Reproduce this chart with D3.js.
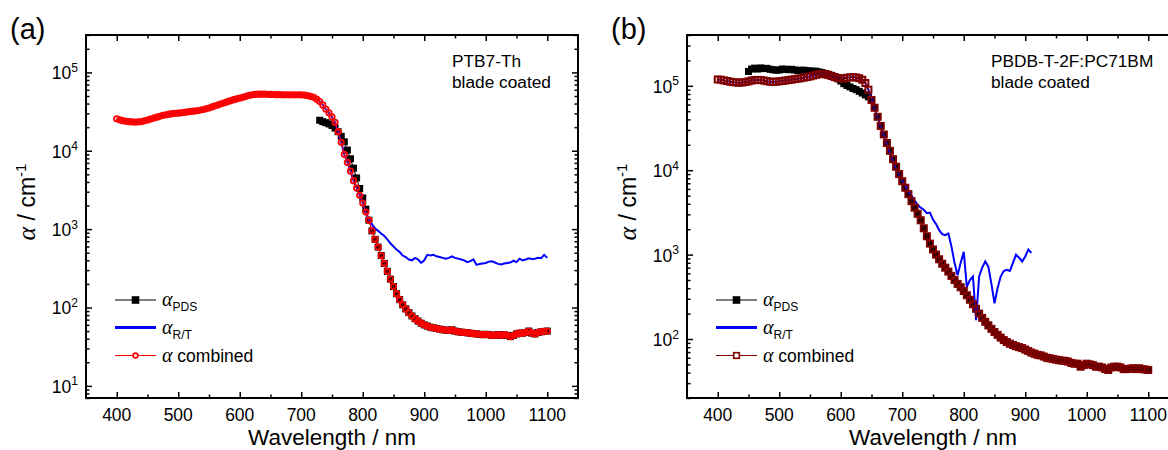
<!DOCTYPE html>
<html>
<head>
<meta charset="utf-8">
<title>Absorption coefficient</title>
<script src="https://cdn.jsdelivr.net/npm/d3@7"></script>
<style>
body { margin: 0; background: #fff; }
svg { display: block; font-family: "Liberation Sans", Arial, sans-serif; }
</style>
</head>
<body>
<svg id="chart" width="1168" height="450"></svg>
<script>
// ---- data: [wavelength nm, alpha cm^-1] ----

// (a) PTB7-Th, R/T absorption
var rtA = [
  [400,25600],[405,24800],[410,24200],[415,23800],[420,23500],[425,23300],[430,23200],[435,23300],[440,23600],[445,24100],
  [450,24700],[455,25400],[460,26100],[465,26800],[470,27500],[475,28200],[480,28800],[485,29300],[490,29700],[495,30000],
  [500,30200],[505,30500],[510,30900],[515,31300],[520,31700],[525,32100],[530,32400],[535,32900],[540,33600],[545,34300],
  [550,35100],[555,36200],[560,37400],[565,38600],[570,39800],[575,41000],[580,42300],[585,43600],[590,44900],[595,46000],
  [600,47000],[605,48200],[610,49500],[615,50800],[620,51700],[625,52300],[630,52700],[635,52800],[640,52700],[645,52500],
  [650,52300],[655,52200],[660,52000],[665,51900],[670,51800],[675,51800],[680,51800],[685,51800],[690,51800],[695,51800],
  [700,51700],[705,51300],[710,50600],[715,49500],[720,48000],[725,45500],[730,42500],[735,38500],[740,34000],[745,30500],
  [750,27000],[755,23000],[760,17500],[765,12800],[770,9000],[775,7100],[780,5500],[785,4150],[790,3350],[795,2700],
  [800,2150],[805,1650],[810,1300],[815,1150],[820,1020],[825,950],[830,880],[835,820],[840,740],[845,660],
  [850,600],[855,550],[860,510],[865,460],[870,440],[875,410],[880,400],[885,430],[890,410],[895,370],
  [900,400],[905,470],[910,460],[915,470],[920,450],[925,440],[930,430],[935,420],[940,430],[945,450],
  [950,430],[955,420],[960,410],[965,400],[970,380],[975,390],[980,410],[985,350],[990,360],[995,365],
  [1000,370],[1005,385],[1010,390],[1015,375],[1020,360],[1025,355],[1030,365],[1035,370],[1040,375],[1045,395],
  [1050,380],[1055,420],[1060,400],[1065,410],[1070,425],[1075,415],[1080,420],[1085,430],[1090,425],[1095,470],[1100,430]
];

// (a) PTB7-Th, PDS
var pdsA = [
  [730,24500],[735,23500],[740,22800],[745,22000],[750,21000],[755,19500],[760,17500],[765,15300],[770,13000],[775,10200],
  [780,7900],[785,6000],[790,4500],[795,3300],[800,2500],[805,1800],[810,1300],[815,950],[820,740],[825,590],
  [830,460],[835,365],[840,290],[845,230],[850,185],[855,150],[860,126],[865,108],[870,96],[875,86],
  [880,78],[885,72],[890,67],[895,63],[900,60],[905,58],[910,56],[915,55],[920,54],[925,53],
  [930,52],[935,51.5],[940,51],[945,52],[950,50],[955,49],[960,48.5],[965,48],[970,47.5],[975,47],
  [980,46.5],[985,46],[990,45.5],[995,45],[1000,45.5],[1005,45],[1010,44],[1015,44.5],[1020,45],[1025,44],
  [1030,45],[1035,44],[1040,42.5],[1045,44],[1050,46],[1055,47],[1060,47],[1065,48],[1070,50],[1075,47],
  [1080,46],[1085,48],[1090,49],[1095,49.5],[1100,50]
];

// (b) PBDB-T-2F:PC71BM, R/T absorption
var rtB = [
  [400,119000],[405,118000],[410,116000],[415,114000],[420,112000],[425,110500],[430,109500],[435,109000],[440,109500],[445,111000],
  [450,113000],[455,115500],[460,117000],[465,117500],[470,117000],[475,115500],[480,113500],[485,112000],[490,111500],[495,112000],
  [500,113000],[505,114000],[510,115500],[515,117000],[520,118500],[525,120000],[530,121500],[535,123000],[540,125000],[545,127000],
  [550,129000],[555,132000],[560,135000],[565,137500],[570,138500],[575,137000],[580,134000],[585,130500],[590,127000],[595,124000],
  [600,122000],[605,122500],[610,124500],[615,126000],[620,126500],[625,125500],[630,123000],[635,118000],[640,108000],[645,90000],
  [650,70000],[655,54000],[660,42000],[665,33000],[670,26000],[675,20500],[680,16000],[685,13000],[690,10500],[695,8800],
  [700,7500],[705,6500],[710,5700],[715,5000],[720,4400],[725,3900],[730,3600],[735,3400],[740,3100],[745,3150],
  [750,2600],[755,2300],[760,1950],[765,1750],[770,1700],[775,1780],[780,1250],[785,800],[790,570],[795,800],
  [800,1080],[805,415],[810,500],[815,550],[820,167],[825,550],[830,700],[835,830],[840,720],[845,450],
  [850,265],[855,400],[860,550],[865,640],[870,660],[875,640],[880,800],[885,1000],[890,920],[895,830],
  [900,950],[905,1150],[910,1050]
];

// (b) PBDB-T-2F:PC71BM, PDS
var pdsB = [
  [450,148000],[455,158000],[460,162000],[465,158000],[470,163000],[475,160000],[480,161000],[485,157000],[490,155000],[495,153000],
  [500,154000],[505,158000],[510,157000],[515,155000],[520,157000],[525,154000],[530,152000],[535,153000],[540,153000],[545,151000],
  [550,150000],[555,149000],[560,149000],[565,146000],[570,143000],[575,140000],[580,137000],[585,133000],[590,127000],[595,121000],
  [600,114000],[605,106000],[610,101000],[615,97000],[620,93000],[625,90000],[630,86000],[635,82000],[640,78000],[645,74000],
  [650,68000],[655,55000],[660,43000],[665,33500],[670,26500],[675,21000],[680,17000],[685,13500],[690,11000],[695,9000],
  [700,7400],[705,6200],[710,5200],[715,4300],[720,3600],[725,3050],[730,2550],[735,2050],[740,1650],[745,1350],
  [750,1150],[755,1000],[760,880],[765,780],[770,700],[775,630],[780,560],[785,500],[790,450],[795,410],
  [800,370],[805,330],[810,292],[815,258],[820,228],[825,200],[830,178],[835,160],[840,145],[845,132],
  [850,121],[855,112],[860,104],[865,97],[870,92],[875,88],[880,85],[885,82],[890,80],[895,78],
  [900,75],[905,72],[910,69],[915,67],[920,65],[925,64],[930,62],[935,60],[940,59],[945,58],
  [950,57],[955,56],[960,55.5],[965,55],[970,54],[975,52],[980,51],[985,51],[990,47],[995,49],
  [1000,51],[1005,50],[1010,49],[1015,47],[1020,47],[1025,46],[1030,44],[1035,43],[1040,46],[1045,47],
  [1050,47],[1055,46],[1060,44],[1065,44],[1070,44.5],[1075,45],[1080,44],[1085,45],[1090,44],[1095,43.5],[1100,43]
];

// combined = R/T below the switch wavelength, PDS from it on
var splitA = 810, splitB = 650;

var xMajor = [400, 500, 600, 700, 800, 900, 1000, 1100];
var xMinor = [450, 550, 650, 750, 850, 950, 1050];
var yMajorA = [1e1, 1e2, 1e3, 1e4, 1e5];
var yMajorB = [1e2, 1e3, 1e4, 1e5];

var svg = d3.select("#chart");

function drawPanel(o) {
  var g = svg.append("g");
  var x = d3.scaleLinear().domain([350, 1150]).range([o.left, o.left + o.w]);
  var y = d3.scaleLog().domain(o.yDomain).range([o.top + o.h, o.top]);

  var combined = o.rt.filter(function(d) { return d[0] < o.split; })
    .concat(o.pds.filter(function(d) { return d[0] >= o.split; }));

  svg.append("clipPath").attr("id", "clip" + o.id)
    .append("rect").attr("x", o.left).attr("y", o.top).attr("width", o.w).attr("height", o.h);
  var plot = g.append("g").attr("clip-path", "url(#clip" + o.id + ")");

  var line = d3.line().x(function(d) { return x(d[0]); }).y(function(d) { return y(d[1]); });

  // PDS: black squares on a thin line
  plot.append("path").datum(o.pds).attr("d", line)
    .attr("fill", "none").attr("stroke", "#000").attr("stroke-width", 1);
  plot.append("g").selectAll("rect").data(o.pds).join("rect")
    .attr("x", function(d) { return x(d[0]) - 3.5; })
    .attr("y", function(d) { return y(d[1]) - 3.5; })
    .attr("width", 7).attr("height", 7).attr("fill", "#000");

  // R/T: blue line
  plot.append("path").datum(o.rt).attr("d", line)
    .attr("fill", "none").attr("stroke", "#0000ff").attr("stroke-width", 2);

  // combined: open markers
  plot.append("path").datum(combined).attr("d", line)
    .attr("fill", "none").attr("stroke", o.combColor).attr("stroke-width", 1);
  if (o.combShape === "circle") {
    plot.append("g").selectAll("circle").data(combined).join("circle")
      .attr("cx", function(d) { return x(d[0]); })
      .attr("cy", function(d) { return y(d[1]); })
      .attr("r", 2.7).attr("fill", "none")
      .attr("stroke", o.combColor).attr("stroke-width", 1.8);
  } else {
    plot.append("g").selectAll("rect").data(combined).join("rect")
      .attr("x", function(d) { return x(d[0]) - 3; })
      .attr("y", function(d) { return y(d[1]) - 3; })
      .attr("width", 6).attr("height", 6).attr("fill", "none")
      .attr("stroke", o.combColor).attr("stroke-width", 2);
  }

  // ticks (all inward)
  var yMinor = y.ticks().filter(function(v) {
    return Math.abs(Math.log10(v) - Math.round(Math.log10(v))) > 1e-9;
  });
  function clean(sel) { sel.select(".domain").remove(); sel.selectAll("line").attr("stroke-width", 1.5); }

  g.append("g").attr("transform", "translate(0," + (o.top + o.h) + ")")
    .call(d3.axisBottom(x).tickValues(xMajor).tickSize(-6).tickFormat("")).call(clean);
  g.append("g").attr("transform", "translate(0," + (o.top + o.h) + ")")
    .call(d3.axisBottom(x).tickValues(xMinor).tickSize(-3.5).tickFormat("")).call(clean);
  g.append("g").attr("transform", "translate(0," + o.top + ")")
    .call(d3.axisTop(x).tickValues(xMajor).tickSize(-6).tickFormat("")).call(clean);
  g.append("g").attr("transform", "translate(0," + o.top + ")")
    .call(d3.axisTop(x).tickValues(xMinor).tickSize(-3.5).tickFormat("")).call(clean);
  g.append("g").attr("transform", "translate(" + o.left + ",0)")
    .call(d3.axisLeft(y).tickValues(o.yMajor).tickSize(-6).tickFormat("")).call(clean);
  g.append("g").attr("transform", "translate(" + o.left + ",0)")
    .call(d3.axisLeft(y).tickValues(yMinor).tickSize(-3.5).tickFormat("")).call(clean);
  g.append("g").attr("transform", "translate(" + (o.left + o.w) + ",0)")
    .call(d3.axisRight(y).tickValues(o.yMajor).tickSize(-6).tickFormat("")).call(clean);
  g.append("g").attr("transform", "translate(" + (o.left + o.w) + ",0)")
    .call(d3.axisRight(y).tickValues(yMinor).tickSize(-3.5).tickFormat("")).call(clean);

  // frame
  g.append("rect").attr("x", o.left).attr("y", o.top).attr("width", o.w).attr("height", o.h)
    .attr("fill", "none").attr("stroke", "#000").attr("stroke-width", 2);

  // tick labels
  g.append("g").selectAll("text").data(xMajor).join("text")
    .attr("x", function(d) { return x(d); })
    .attr("y", o.top + o.h + 23)
    .attr("text-anchor", "middle").attr("font-size", 17.5)
    .text(function(d) { return d; });

  var yl = g.append("g").selectAll("text").data(o.yMajor).join("text")
    .attr("x", o.left - 8)
    .attr("y", function(d) { return y(d) + 7; })
    .attr("text-anchor", "end").attr("font-size", 17.5);
  yl.append("tspan").text("10");
  yl.append("tspan").attr("font-size", 12).attr("dy", -7.5)
    .text(function(d) { return Math.round(Math.log10(d)); });

  // axis titles
  g.append("text").attr("x", o.left + o.w / 2).attr("y", 445)
    .attr("text-anchor", "middle").attr("font-size", 22.5).text("Wavelength / nm");

  var yt = g.append("text")
    .attr("transform", "translate(" + (o.left - 51) + ",202) rotate(-90)")
    .attr("text-anchor", "middle").attr("font-size", 23);
  yt.append("tspan").attr("font-family", "'Liberation Serif', serif").attr("font-style", "italic")
    .attr("font-size", 26).text("\u03b1");
  yt.append("tspan").text(" / cm");
  yt.append("tspan").attr("font-size", 15).attr("dy", -9).text("-1");

  // panel letter
  svg.append("text").attr("x", o.left - 76).attr("y", 39)
    .attr("font-size", 29).text(o.letter);

  // sample annotation
  var ann = g.append("text").attr("font-size", 17.3);
  ann.append("tspan").attr("x", o.annX).attr("y", 67).text(o.sample);
  ann.append("tspan").attr("x", o.annX).attr("y", 88).text("blade coated");

  // legend
  var lg = g.append("g");
  var lx0 = o.left + 29, lx1 = o.left + 70, lc = (lx0 + lx1) / 2, tx = o.left + 76;
  var rows = [300, 327.5, 355.5];

  lg.append("line").attr("x1", lx0).attr("x2", lx1).attr("y1", rows[0]).attr("y2", rows[0])
    .attr("stroke", "#000").attr("stroke-width", 1);
  lg.append("rect").attr("x", lc - 3.8).attr("y", rows[0] - 3.8).attr("width", 7.6).attr("height", 7.6)
    .attr("fill", "#000");

  lg.append("line").attr("x1", lx0).attr("x2", lx1).attr("y1", rows[1]).attr("y2", rows[1])
    .attr("stroke", "#0000ff").attr("stroke-width", 3);

  lg.append("line").attr("x1", lx0).attr("x2", lx1).attr("y1", rows[2]).attr("y2", rows[2])
    .attr("stroke", o.combColor).attr("stroke-width", 1);
  if (o.combShape === "circle") {
    lg.append("circle").attr("cx", lc).attr("cy", rows[2]).attr("r", 2.4)
      .attr("fill", "#fff").attr("stroke", o.combColor).attr("stroke-width", 1.6);
  } else {
    lg.append("rect").attr("x", lc - 2.8).attr("y", rows[2] - 2.8).attr("width", 5.6).attr("height", 5.6)
      .attr("fill", "#fff").attr("stroke", o.combColor).attr("stroke-width", 1.6);
  }

  var labels = [["PDS", ""], ["R/T", ""], ["", " combined"]];
  labels.forEach(function(l, i) {
    var t = lg.append("text").attr("x", tx).attr("y", rows[i] + 6).attr("font-size", 17.5);
    t.append("tspan").attr("font-family", "'Liberation Serif', serif").attr("font-style", "italic")
      .attr("font-size", 20).text("\u03b1");
    if (l[0]) t.append("tspan").attr("font-size", 12).attr("dy", 5).text(l[0]);
    if (l[1]) t.append("tspan").text(l[1]);
  });
}

drawPanel({
  id: "A", letter: "(a)", left: 86, top: 35, w: 492, h: 363,
  yDomain: [7, 3e5], yMajor: yMajorA,
  rt: rtA, pds: pdsA, split: splitA,
  combColor: "#ff0000", combShape: "circle",
  sample: "PTB7-Th", annX: 452
});

drawPanel({
  id: "B", letter: "(b)", left: 687, top: 35, w: 492, h: 363,
  yDomain: [20, 4e5], yMajor: yMajorB,
  rt: rtB, pds: pdsB, split: splitB,
  combColor: "#800000", combShape: "square",
  sample: "PBDB-T-2F:PC71BM", annX: 991
});
</script>
</body>
</html>
